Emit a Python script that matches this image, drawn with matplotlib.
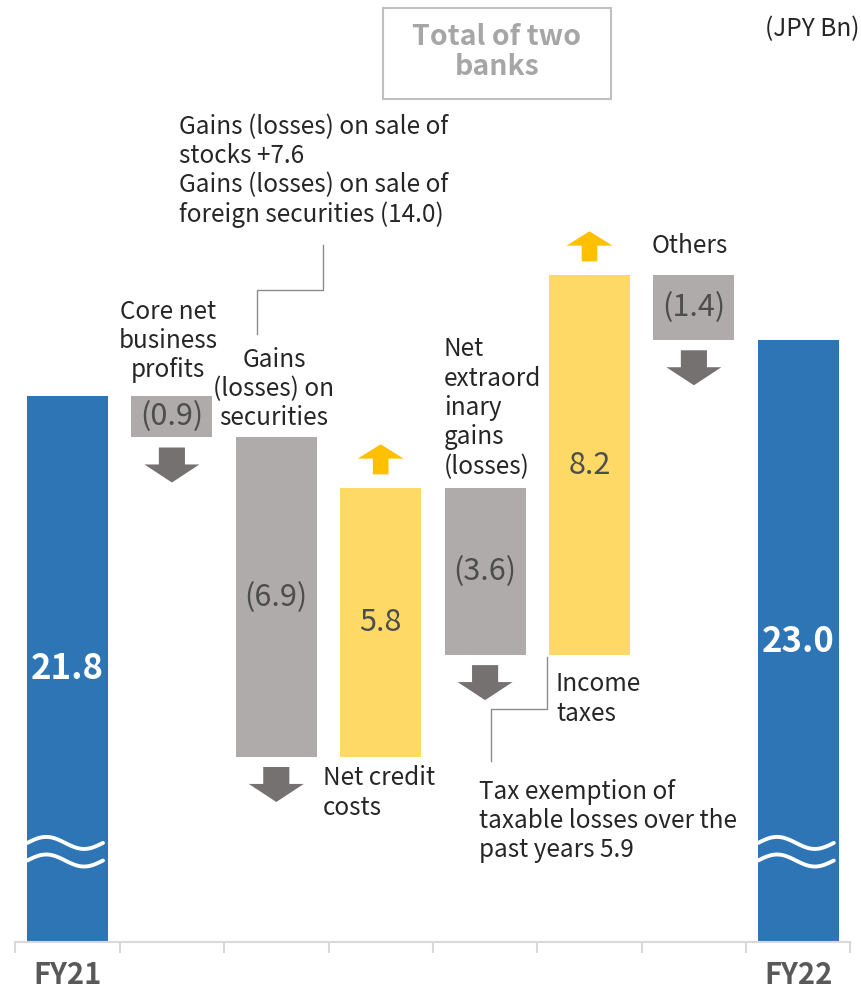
import numpy as np
import matplotlib
matplotlib.use('Agg')
import matplotlib.pyplot as plt
from matplotlib.patches import Rectangle

plt.rcParams['font.family'] = ['Noto Sans CJK JP', 'DejaVu Sans']

# data (JPY Bn)
start_label, end_label = 'FY21', 'FY22'
start_value = 21.8
end_value = 23.0
step_names = ['Core net business profits', 'Gains (losses) on securities',
              'Net credit costs', 'Net extraordinary gains (losses)',
              'Income taxes', 'Others']
step_values = [-0.9, -6.9, 5.8, -3.6, 8.2, -1.4]
step_texts = ['(0.9)', '(6.9)', '5.8', '(3.6)', '8.2', '(1.4)']

BLUE = '#2E75B6'
GRAY = '#AFABAB'
YELLOW = '#FFD966'
UP = '#FFC000'
DOWN = '#767171'
TXT = '#262626'
VAL = '#4D4D4D'

W, H = 862, 994
fig = plt.figure(figsize=(W / 100, H / 100), dpi=100)
# axes: x category 0 at px 67.5, 104.4 px per step; y=10 at px 942, 46.3 px per unit
ax = fig.add_axes([0, (H - 942) / H, 1, 942 / H])
ax.set_xlim(-67.5 / 104.4, (W - 67.5) / 104.4)
ax.set_ylim(10, 10 + 942 / 46.3)
for s in ['top', 'left', 'right']:
    ax.spines[s].set_visible(False)
ax.spines['bottom'].set_bounds(-0.5, 7.5)
ax.spines['bottom'].set_color('#D9D9D9')
ax.spines['bottom'].set_linewidth(1.5)
ax.set_yticks([])

n = len(step_values)
ax.set_xticks([0, n + 1])
ax.set_xticklabels([start_label, end_label], fontsize=21, fontweight='bold',
                   color='#595959')
ax.tick_params(axis='x', which='major', length=0, pad=13)
ax.set_xticks(np.arange(-0.5, n + 2), minor=True)
ax.tick_params(axis='x', which='minor', length=8, width=1.5, color='#D9D9D9')

bw = 0.776

# end bars (broken axis)
ax.bar([0, n + 1], [start_value, end_value], width=bw, color=BLUE)
ax.text(0, (start_value + 10) / 2, f'{start_value:.1f}', ha='center', va='center',
        color='white', fontsize=25, fontweight='bold')
ax.text(n + 1, (end_value + 10) / 2, f'{end_value:.1f}', ha='center', va='center',
        color='white', fontsize=25, fontweight='bold')

# wavy break marks
wx = np.linspace(-0.385, 0.34, 60)
for xc in [0, n + 1]:
    for yc in [12.14, 11.76]:
        ax.plot(xc + wx, yc + 0.13 * np.sin(2 * np.pi * (wx + 0.385) / 0.725),
                color='white', lw=2.8, solid_capstyle='round')

# waterfall steps
level = start_value
for i, (v, t) in enumerate(zip(step_values, step_texts), start=1):
    bottom = min(level, level + v)
    col = YELLOW if v > 0 else GRAY
    ax.bar(i, abs(v), bottom=bottom, width=bw, color=col)
    ax.text(i, bottom + abs(v) / 2, t, ha='center', va='center', color=VAL,
            fontsize=22)
    if v > 0:
        top = bottom + abs(v)
        ax.arrow(i, top + 0.30, 0, 0.65, width=0.15, head_width=0.44,
                 head_length=0.31, length_includes_head=True, color=UP, lw=0)
    else:
        ax.arrow(i, bottom - 0.22, 0, -0.756, width=0.25, head_width=0.527,
                 head_length=0.39, length_includes_head=True, color=DOWN, lw=0)
    level += v


def P(x, y):
    return x / W, 1 - y / H


fs = 17.5
ls = 1.17
fig.text(*P(168, 341), 'Core net\nbusiness\nprofits', ha='center', va='center',
         fontsize=fs, color=TXT, linespacing=ls)
fig.text(*P(274, 389), 'Gains\n(losses) on\nsecurities', ha='center', va='center',
         fontsize=fs, color=TXT, linespacing=ls)
fig.text(*P(323, 793), 'Net credit\ncosts', ha='left', va='center',
         fontsize=fs, color=TXT, linespacing=ls)
fig.text(*P(444, 408), 'Net\nextraord\ninary\ngains\n(losses)', ha='left',
         va='center', fontsize=fs, color=TXT, linespacing=ls)
fig.text(*P(556, 699), 'Income\ntaxes', ha='left', va='center',
         fontsize=fs, color=TXT, linespacing=ls)
fig.text(*P(652, 246), 'Others', ha='left', va='center',
         fontsize=fs, color=TXT)
fig.text(*P(179, 171), 'Gains (losses) on sale of\nstocks +7.6\n'
         'Gains (losses) on sale of\nforeign securities (14.0)',
         ha='left', va='center', fontsize=fs, color=TXT, linespacing=ls)
fig.text(*P(479, 821), 'Tax exemption of\ntaxable losses over the\npast years 5.9',
         ha='left', va='center', fontsize=fs, color=TXT, linespacing=ls)
fig.text(*P(860, 29), '(JPY Bn)', ha='right', va='center', fontsize=17.5,
         color=TXT)

# title box
fig.patches.append(Rectangle(P(383, 99), 228 / W, 91 / H, transform=fig.transFigure,
                             fill=False, edgecolor='#BFBFBF', lw=1.5))
fig.text(*P(497, 52), 'Total of two\nbanks', ha='center', va='center',
         fontsize=20.5, fontweight='bold', color='#A6A6A6', linespacing=1.12)

# connector lines
lc = '#8C8C8C'
fig.add_artist(plt.Line2D([257 / W, 257 / W, 323 / W, 323 / W],
                          [1 - 334 / H, 1 - 290 / H, 1 - 290 / H, 1 - 245 / H],
                          color=lc, lw=1))
fig.add_artist(plt.Line2D([547 / W, 547 / W, 491 / W, 491 / W],
                          [1 - 657 / H, 1 - 709 / H, 1 - 709 / H, 1 - 761 / H],
                          color=lc, lw=1))

fig.savefig('out.png', dpi=100)
